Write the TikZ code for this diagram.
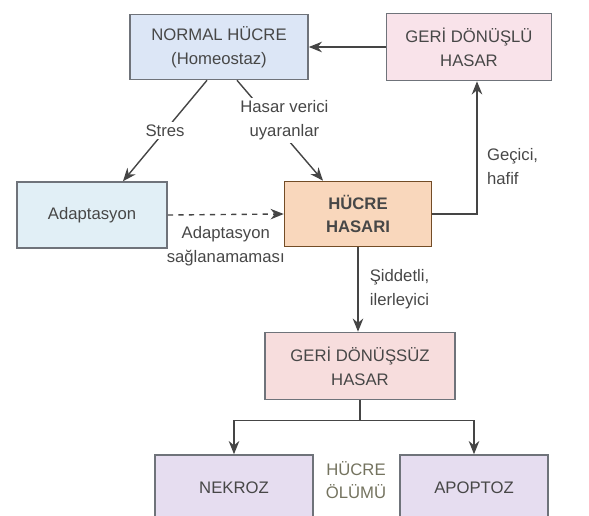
\documentclass[tikz,border=0pt]{standalone}
\usepackage{fontspec}
\setmainfont{Liberation Sans}
\usetikzlibrary{arrows.meta,positioning,calc}
\definecolor{edgegray}{HTML}{6F737A}
\definecolor{linegray}{HTML}{454545}
\definecolor{txtgray}{HTML}{474747}
\definecolor{normalbg}{HTML}{DCE6F6}
\definecolor{revbg}{HTML}{F9E3EA}
\definecolor{adapbg}{HTML}{E1EFF6}
\definecolor{hasarbg}{HTML}{F9D7BC}
\definecolor{irrevbg}{HTML}{F7DDDD}
\definecolor{olumbg}{HTML}{E6DDF0}
\definecolor{olumtxt}{HTML}{74735F}
\begin{document}
\begin{tikzpicture}[
		font=\fontsize{9.5}{13.5}\selectfont,
		box/.style={draw=edgegray,line width=0.9pt,text=txtgray,align=center,
				minimum height=1.3cm,inner sep=4pt},
		arr/.style={draw=linegray,line width=0.8pt,-{Stealth[length=7.5pt,width=6pt]}},
		lbl/.style={text=txtgray,align=center,fill=white,inner sep=1.5pt},
	]
	\useasboundingbox (0,0) rectangle (11.78,-10.3);
	\clip (0,0) rectangle (11.78,-10.3);
	\node[box,fill=normalbg,minimum width=3.56cm] (normal) at (4.38,-0.94) {NORMAL HÜCRE\\(Homeostaz)};
	\node[box,fill=revbg,minimum width=3.3cm,minimum height=1.34cm] (rev) at (9.38,-0.94) {GERİ DÖNÜŞLÜ\\HASAR};
	\node[box,fill=adapbg,minimum width=3.0cm,minimum height=1.32cm] (adap) at (1.84,-4.3) {Adaptasyon};
	\node[box,fill=hasarbg,draw=brown!60!black,minimum width=2.94cm,font=\fontsize{9.5}{13.5}\selectfont\bfseries] (hasar) at (7.16,-4.28) {HÜCRE\\HASARI};
	\node[box,fill=irrevbg,minimum width=3.8cm,minimum height=1.34cm] (irrev) at (7.2,-7.32) {GERİ DÖNÜŞSÜZ\\HASAR};
	\node[box,fill=olumbg,minimum width=3.16cm,minimum height=1.32cm] (nekroz) at (4.68,-9.76) {NEKROZ};
	\node[box,fill=olumbg,minimum width=2.96cm,minimum height=1.32cm] (apoptoz) at (9.48,-9.76) {APOPTOZ};
	\node[text=olumtxt,align=center] (olum) at (7.12,-9.6) {HÜCRE\\ÖLÜMÜ};
	\draw[arr] (rev.west) -- (normal.east);
	\draw[arr] ([xshift=-0.24cm]normal.south) -- node[lbl] (stres) {Stres} ([xshift=0.62cm]adap.north);
	\draw[arr] ([xshift=0.36cm]normal.south) -- node[lbl,pos=0.4,xshift=0.26cm] (uyaran) {Hasar verici\\uyaranlar} ([xshift=-0.7cm]hasar.north);
	\draw[arr,dashed] (adap.east) -- node[below=3pt,text=txtgray,align=center] (basarisiz) {Adaptasyon\\sağlanamaması} (hasar.west);
	\draw[arr] (hasar.east) -| node[pos=0.68,right=2pt,text=txtgray,align=left] (gecici) {Geçici,\\hafif} ([xshift=0.16cm]rev.south);
	\draw[arr] (hasar.south) -- node[right=3pt,text=txtgray,align=left] (siddet) {Şiddetli,\\ilerleyici} (hasar.south |- irrev.north);
	\draw[draw=linegray,line width=0.8pt] (irrev.south) -- ++(0,-0.4) coordinate (split);
	\draw[arr] (split) -| (nekroz.north);
	\draw[arr] (split) -| (apoptoz.north);
\end{tikzpicture}
\end{document}
